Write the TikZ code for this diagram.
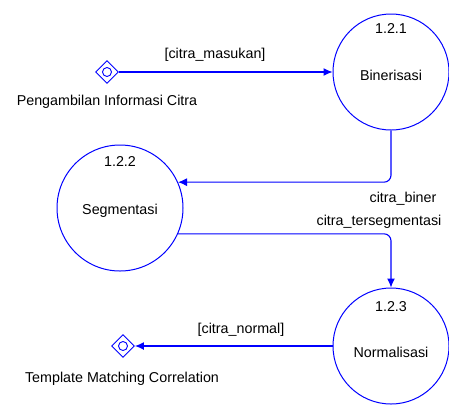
\documentclass[tikz,border=0pt]{standalone}
\usepackage{fontspec}
\setmainfont{Liberation Sans}
\usetikzlibrary{shapes.geometric,arrows.meta}
\begin{document}
\begin{tikzpicture}[x=1pt,y=-1pt,
		font=\fontsize{14.3}{17}\selectfont,
		proc/.style={draw=blue,line width=1pt,shape=circle,inner sep=0pt},
		ext/.style={draw=blue,line width=0.9pt,shape=diamond,minimum size=23pt,inner sep=0pt},
		flow/.style={draw=blue,line width=1.1pt,rounded corners=7pt,-{Latex[length=9pt,width=8pt]}}]
					\useasboundingbox (0,0) rectangle (449,408);
					\node[proc,minimum size=116pt,name=A1] at (391,72){};
					\node[proc,minimum size=126pt,name=A2] at (120,208){};
					\node[proc,minimum size=116pt,name=A3] at (391,346){};
					\node[name=N1] at (391,29){1.2.1};
					\node[name=N2] at (120,162){1.2.2};
					\node[name=N3] at (391,307){1.2.3};
					\node[name=T1] at (391,75){Binerisasi};
					\node[name=T2] at (120,211){Segmentasi};
					\node[name=T3] at (391,352){Normalisasi};
					\foreach \x/\y in {1/72,2/346}{
						\node[ext,name=D\x] at ({91+16*\x},\y){};
						\node[draw=blue,line width=0.9pt,shape=circle,minimum size=9pt,inner sep=0pt,name=C\x] at (D\x){};
					};
					\node[name=E1] at (107,102){Pengambilan Informasi Citra};
					\node[name=E2] at (122,379){Template Matching Correlation};
					\draw[flow] (D1)--(A1.west);
					\draw[flow] (A1.south)|-(A2.24);
					\draw[flow] (A2.-24)-|(A3.north);
					\draw[flow] (A3.west)--(D2);
					\node[name=L1] at (215,55){[citra\_masukan]};
					\node[name=L2] at (403,199){citra\_biner};
					\node[name=L3] at (379,222){citra\_tersegmentasi};
					\node[name=L4] at (241,330){[citra\_normal]};
				\end{tikzpicture}
\end{document}
